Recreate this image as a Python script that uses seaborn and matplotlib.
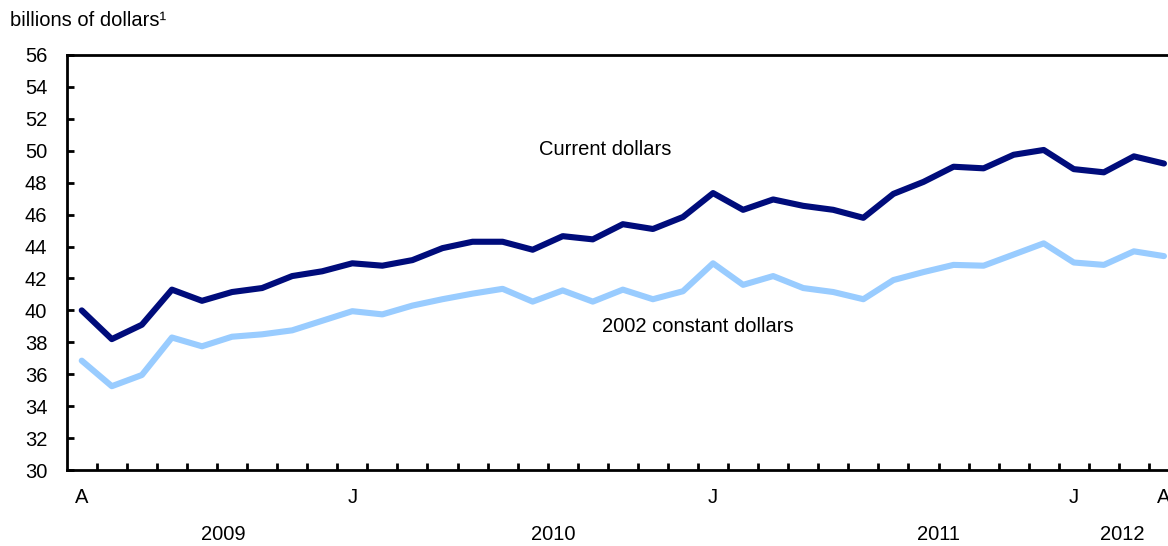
import numpy as np
import pandas as pd
import matplotlib.pyplot as plt
import seaborn as sns

# monthly values, April 2009 to April 2012 (billions of dollars)
months = pd.period_range('2009-04', '2012-04', freq='M').astype(str)
current_dollars = [40.0, 38.2, 39.1, 41.3, 40.6, 41.15, 41.4, 42.15, 42.45,
                   42.95, 42.8, 43.15, 43.9, 44.3, 44.3, 43.8, 44.65, 44.45, 45.4, 45.1, 45.85,
                   47.35, 46.3, 46.95, 46.55, 46.3, 45.8, 47.3, 48.05, 49.0, 48.9, 49.75, 50.05,
                   48.85, 48.65, 49.65, 49.2]
constant_dollars = [36.85, 35.25, 35.95, 38.3, 37.75, 38.35, 38.5, 38.75, 39.35,
                    39.95, 39.75, 40.3, 40.7, 41.05, 41.35, 40.55, 41.25, 40.55, 41.3, 40.7, 41.2,
                    42.95, 41.6, 42.15, 41.4, 41.15, 40.7, 41.9, 42.4, 42.85, 42.8, 43.5, 44.2,
                    43.0, 42.85, 43.7, 43.4]

month_label_idx = [0, 9, 21, 33, 36]
month_labels = ['A', 'J', 'J', 'J', 'A']
years = ['2009', '2010', '2011', '2012']
year_pos = [4.7, 15.7, 28.5, 34.6]
yticks = list(range(30, 57, 2))

df = pd.DataFrame({'month': months,
                   'Current dollars': current_dollars,
                   '2002 constant dollars': constant_dollars})
df['x'] = np.arange(len(df))
df_long = df.melt(id_vars=['month', 'x'], var_name='series', value_name='value')

sns.set_style('ticks')
plt.rcParams['font.family'] = ['Liberation Sans', 'DejaVu Sans']
plt.rcParams['text.color'] = 'black'
plt.rcParams['xtick.color'] = 'black'
plt.rcParams['ytick.color'] = 'black'
plt.rcParams['axes.labelcolor'] = 'black'

fig = plt.figure(figsize=(11.68, 5.46), dpi=100)
ax = fig.add_axes([66.7 / 1168, 76 / 546, (1179 - 66.7) / 1168, 415 / 546])

sns.lineplot(data=df_long, x='x', y='value', hue='series',
             palette={'Current dollars': '#000C7B', '2002 constant dollars': '#99CCFF'},
             linewidth=4.4, legend=False, ax=ax,
             solid_capstyle='round', solid_joinstyle='round')

ax.set_xlim(-0.5, 36.5)
ax.set_ylim(30, 56)
ax.set_yticks(yticks)
ax.set_xticks(month_label_idx)
ax.set_xticklabels(month_labels)
ax.set_xticks(np.arange(0.5, 36, 1), minor=True)
ax.tick_params(axis='x', which='major', length=0, pad=13, labelsize=14.5)
ax.tick_params(axis='x', which='minor', direction='in', length=5, width=2)
ax.tick_params(axis='y', direction='in', length=5, width=2, pad=14, labelsize=14.5)
ax.set_xlabel('')
ax.set_ylabel('')

for side in ['left', 'bottom', 'top']:
    ax.spines[side].set_linewidth(2)
    ax.spines[side].set_color('black')
ax.spines['right'].set_visible(False)

trans = ax.get_xaxis_transform()
for yr, pos in zip(years, year_pos):
    ax.text(pos, -0.156, yr, transform=trans, ha='center', va='center', fontsize=14.5)

ax.text(15.2, 50.05, 'Current dollars', ha='left', va='center', fontsize=14.5)
ax.text(17.3, 38.96, '2002 constant dollars', ha='left', va='center', fontsize=14.5)

fig.text(10 / 1168, 1 - 20 / 546, 'billions of dollars\u00b9', ha='left', va='center', fontsize=14.5)

fig.savefig('out.png', dpi=100)
